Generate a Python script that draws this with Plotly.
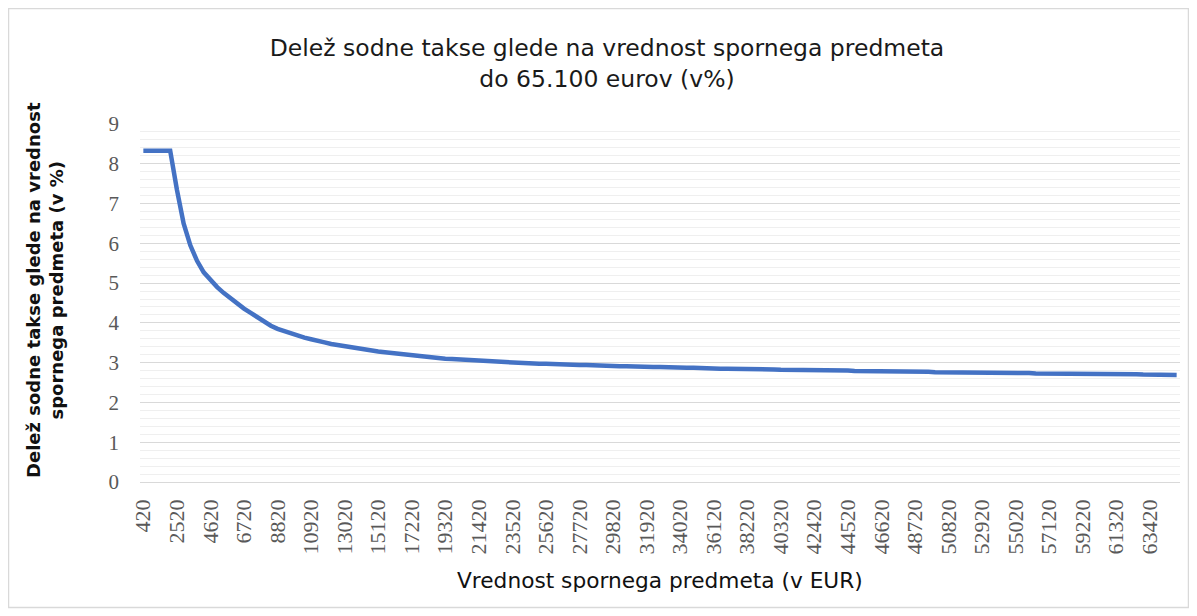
import plotly.graph_objects as go

# Categories: value of the disputed subject (EUR), step 420
categories = list(range(420, 65101, 420))

# Share of court fee in %
share = [
    8.33, 8.33, 8.33, 8.33, 8.33, 7.35, 6.50, 5.95, 5.56, 5.27,
    5.07, 4.90, 4.75, 4.61, 4.48, 4.36, 4.25, 4.14, 4.02, 3.93,
    3.85, 3.79, 3.72, 3.67, 3.63, 3.59, 3.56, 3.51, 3.47, 3.44,
    3.42, 3.39, 3.36, 3.34, 3.31, 3.28, 3.26, 3.24, 3.22, 3.20,
    3.18, 3.16, 3.15, 3.13, 3.12, 3.10, 3.09, 3.08, 3.07, 3.05,
    3.04, 3.03, 3.02, 3.02, 3.01, 3.00, 2.99, 2.99, 2.98, 2.97,
    2.97, 2.96, 2.96, 2.95, 2.95, 2.94, 2.94, 2.93, 2.93, 2.92,
    2.92, 2.91, 2.91, 2.90, 2.90, 2.90, 2.89, 2.89, 2.88, 2.88,
    2.87, 2.87, 2.87, 2.86, 2.86, 2.86, 2.85, 2.85, 2.85, 2.84,
    2.84, 2.84, 2.83, 2.83, 2.83, 2.82, 2.82, 2.82, 2.81, 2.81,
    2.81, 2.81, 2.80, 2.80, 2.80, 2.80, 2.79, 2.79, 2.79, 2.79,
    2.78, 2.78, 2.78, 2.78, 2.77, 2.77, 2.77, 2.77, 2.76, 2.76,
    2.76, 2.76, 2.76, 2.75, 2.75, 2.75, 2.75, 2.75, 2.74, 2.74,
    2.74, 2.74, 2.74, 2.73, 2.73, 2.73, 2.73, 2.73, 2.72, 2.72,
    2.72, 2.72, 2.72, 2.72, 2.71, 2.71, 2.71, 2.71, 2.71, 2.70,
    2.70, 2.70, 2.70, 2.70, 2.69,
]

# Tick labels shown on the x axis (every fifth category)
tick_labels = [str(c) for c in categories[::5]]
y_ticks = [0, 1, 2, 3, 4, 5, 6, 7, 8, 9]

x_cat = [str(c) for c in categories]

# The page body has an 8px margin, so the figure starts at (8, 8) on the page.
OFF = 8
W, H = 1197 - OFF, 616 - OFF
# plot area in page pixels
PL, PR, PT, PB = 140, 1180, 124, 482
L, R, T, B = PL - OFF, PR - OFF, PT - OFF, PB - OFF

def px_x(p):
    return (p - PL) / (PR - PL)

def px_y(p):
    return (PB - p) / (PB - PT)

fig = go.Figure()
fig.add_trace(go.Scatter(
    x=x_cat, y=share, mode="lines",
    line=dict(color="#4472C4", width=4.5),
    hoverinfo="x+y", showlegend=False,
))

fig.update_layout(
    width=W, height=H,
    margin=dict(l=L, r=W - R, t=T, b=H - B, autoexpand=False),
    paper_bgcolor="white", plot_bgcolor="white",
    title=dict(
        text="Delež sodne takse glede na vrednost spornega predmeta<br>do 65.100 eurov (v%)",
        x=(607 - OFF) / W, xanchor="center", xref="container",
        y=1 - (56 - OFF) / H, yanchor="middle", yref="container",
        font=dict(family="DejaVu Sans", size=23.5, color="#1a1a1a"),
    ),
    xaxis=dict(
        type="category",
        range=[-0.5, len(categories) - 0.5],
        tickmode="array", tickvals=tick_labels, ticktext=tick_labels,
        tickangle=-90,
        tickfont=dict(family="Liberation Serif", size=22, color="#595959"),
        showgrid=False, zeroline=False, showline=False,
        ticks="", ticklabelstandoff=12,
    ),
    yaxis=dict(
        range=[0, 9], tickmode="array", tickvals=y_ticks,
        tickfont=dict(family="Liberation Serif", size=21, color="#595959"),
        showgrid=True, gridcolor="#d9d9d9", gridwidth=1,
        zeroline=True, zerolinecolor="#d9d9d9", zerolinewidth=1,
        showline=False, ticks="", ticklabelstandoff=20,
        minor=dict(dtick=0.2, showgrid=True, gridcolor="#efefef", gridwidth=1),
    ),
    annotations=[
        dict(
            text="<b>Delež sodne takse glede na vrednost<br>spornega predmeta (v %)</b>",
            x=px_x(45), y=px_y(290), xref="paper", yref="paper",
            xanchor="center", yanchor="middle", textangle=-90, showarrow=False,
            font=dict(family="DejaVu Sans", size=18, color="#111111"),
        ),
        dict(
            text="Vrednost spornega predmeta (v EUR)",
            x=px_x(660), y=px_y(580), xref="paper", yref="paper",
            xanchor="center", yanchor="middle", showarrow=False,
            font=dict(family="DejaVu Sans", size=21.7, color="#111111"),
        ),
    ],
    shapes=[
        dict(type="rect", xref="paper", yref="paper",
             x0=px_x(8.5), x1=px_x(1188.5), y0=px_y(607.5), y1=px_y(8.5),
             line=dict(color="#d9d9d9", width=1.5), fillcolor="rgba(0,0,0,0)",
             layer="below"),
    ],
)

fig.write_html("out.html")
